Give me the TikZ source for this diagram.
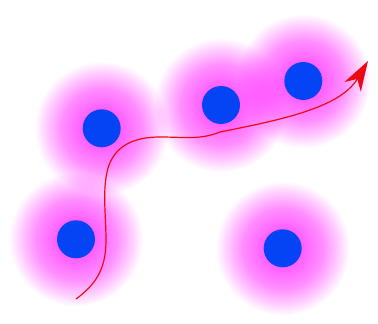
\documentclass[tikz,border=0pt]{standalone}
\usetikzlibrary{arrows.meta,fadings}
\definecolor{atomblue}{RGB}{5,68,245}
\definecolor{halopink}{RGB}{255,20,255}
\definecolor{pathred}{RGB}{235,10,20}
\pgfdeclareradialshading{halomask}{\pgfpoint{0bp}{0bp}}{color(0bp)=(white!70!black);color(8bp)=(white!66!black);color(15bp)=(white!48!black);color(21bp)=(white!20!black);color(25bp)=(black);color(50bp)=(black)}
\pgfdeclarefading{halofade}{\pgfuseshading{halomask}}
\tikzset{
  atom/.style={circle,fill=atomblue,minimum size=38pt,inner sep=0pt},
  glow/.style={fill=halopink,path fading=halofade}
}

\begin{document}
\begin{tikzpicture}[x=1pt,y=-1pt]
\useasboundingbox (0,0) rectangle (378,324);
\coordinate (p1) at (101.7,128.3);
\coordinate (p2) at (76,239.3);
\coordinate (p3) at (221,105);
\coordinate (p4) at (303.3,81);
\coordinate (p5) at (282.7,248.3);
\fill[glow] (p1) circle (67pt);
\fill[glow] (p2) circle (67pt);
\fill[glow] (p3) circle (67pt);
\fill[glow] (p4) circle (67pt);
\fill[glow] (p5) circle (67pt);
\node[atom] (a1) at (p1) {};
\node[atom] (a2) at (p2) {};
\node[atom] (a3) at (p3) {};
\node[atom] (a4) at (p4) {};
\node[atom] (a5) at (p5) {};
\coordinate (start) at (76,299);
\coordinate (end) at (368,61);
\draw[pathred,line width=1.2pt,-{Stealth[length=30pt,width=19pt,inset=9pt]}] (start)
  .. controls (95,285) and (106,270) .. (106,240)
  .. controls (106,215) and (102,190) .. (108,168)
  .. controls (115,145) and (135,137) .. (160,137)
  .. controls (185,137) and (200,140) .. (220,132)
  .. controls (280,120) and (340,108) .. (end);
\end{tikzpicture}
\end{document}
